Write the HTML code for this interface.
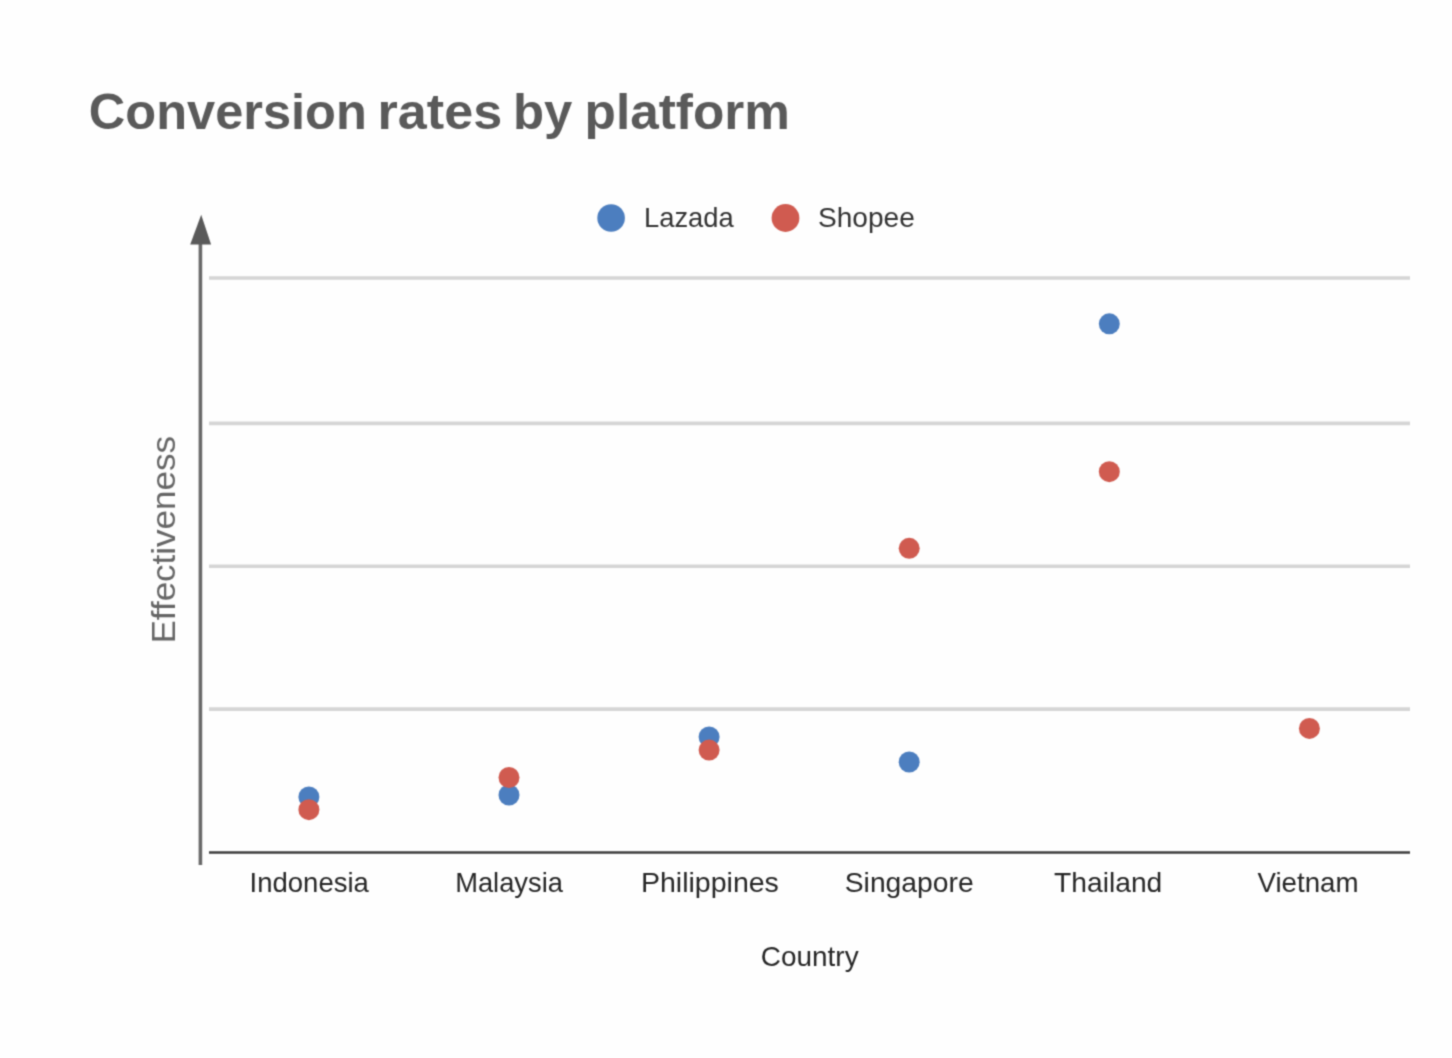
<!DOCTYPE html>
<html><head><meta charset="utf-8"><title>Conversion rates by platform</title>
<style>
html,body{margin:0;padding:0;background:#fff;}
body{width:1452px;height:1058px;overflow:hidden;font-family:"Liberation Sans",sans-serif;}
svg{display:block;}
</style></head>
<body>
<svg width="1452" height="1058" viewBox="0 0 1452 1058" font-family="Liberation Sans, sans-serif">
<defs><filter id="b" x="0" y="0" width="1452" height="1058" filterUnits="userSpaceOnUse" color-interpolation-filters="sRGB"><feConvolveMatrix order="3" kernelMatrix="0.0936 0.306 0.0936 0.306 1 0.306 0.0936 0.306 0.0936" divisor="2.598" edgeMode="duplicate"/></filter></defs>
<g filter="url(#b)">
<rect x="0" y="0" width="1452" height="1058" fill="#fefefe"/>
<!-- title -->
<g font-size="50" font-weight="bold" fill="#5a5a5a">
<text x="88.78" y="128.5" textLength="278.1" lengthAdjust="spacingAndGlyphs">Conversion</text>
<text x="377.57" y="128.5" textLength="124.56" lengthAdjust="spacingAndGlyphs">rates</text>
<text x="513.05" y="128.5" textLength="59.32" lengthAdjust="spacingAndGlyphs">by</text>
<text x="584.62" y="128.5" textLength="205.26" lengthAdjust="spacingAndGlyphs">platform</text>
</g>
<!-- legend -->
<circle cx="611.1" cy="218" r="13.8" fill="#4c7ebf"/>
<text x="644" y="227.2" font-size="27.6" fill="#333" textLength="89.7" lengthAdjust="spacingAndGlyphs">Lazada</text>
<circle cx="785.5" cy="218" r="13.9" fill="#d05b50"/>
<text x="818" y="227.1" font-size="27.6" fill="#333" textLength="96.8" lengthAdjust="spacingAndGlyphs">Shopee</text>
<!-- gridlines -->
<g stroke="#d5d5d5" stroke-width="3.6">
<line x1="209" y1="278" x2="1410" y2="278"/>
<line x1="209" y1="423.4" x2="1410" y2="423.4"/>
<line x1="209" y1="566.3" x2="1410" y2="566.3"/>
<line x1="209" y1="709.1" x2="1410" y2="709.1"/>
</g>
<line x1="209" y1="852.45" x2="1410" y2="852.45" stroke="#3c3c3c" stroke-width="2.4"/>
<!-- y axis -->
<line x1="200.4" y1="240" x2="200.4" y2="865" stroke="#6a6a6a" stroke-width="3.6"/>
<polygon points="201.2,214.8 190.2,244.6 211.1,244.6" fill="#595959"/>
<text transform="translate(175,643.5) rotate(-90)" font-size="34" fill="#666" textLength="207.5" lengthAdjust="spacingAndGlyphs">Effectiveness</text>
<!-- x labels -->
<g font-size="27.8" fill="#262626" text-anchor="middle">
<text x="309.2" y="891.6" textLength="119.3" lengthAdjust="spacingAndGlyphs">Indonesia</text>
<text x="509.05" y="891.6" textLength="107.8" lengthAdjust="spacingAndGlyphs">Malaysia</text>
<text x="709.9" y="891.6" textLength="138" lengthAdjust="spacingAndGlyphs">Philippines</text>
<text x="909.2" y="891.6" textLength="128.9" lengthAdjust="spacingAndGlyphs">Singapore</text>
<text x="1108.2" y="891.6" textLength="108.2" lengthAdjust="spacingAndGlyphs">Thailand</text>
<text x="1308.05" y="891.6" textLength="101.1" lengthAdjust="spacingAndGlyphs">Vietnam</text>
</g>
<text x="809.75" y="965.7" font-size="27.9" fill="#262626" text-anchor="middle" textLength="97.8" lengthAdjust="spacingAndGlyphs">Country</text>
<!-- data -->
<g fill="#4c7ebf">
<circle cx="308.9" cy="797" r="10.5"/>
<circle cx="509" cy="795" r="10.5"/>
<circle cx="709.1" cy="737" r="10.5"/>
<circle cx="909.2" cy="762" r="10.5"/>
<circle cx="1109.3" cy="323.8" r="10.5"/>
</g>
<g fill="#d05b50">
<circle cx="308.9" cy="809.7" r="10.5"/>
<circle cx="509" cy="777.5" r="10.5"/>
<circle cx="709.1" cy="750.1" r="10.5"/>
<circle cx="909.2" cy="548.3" r="10.5"/>
<circle cx="1109.3" cy="471.7" r="10.5"/>
<circle cx="1309.4" cy="728.4" r="10.5"/>
</g>
</g>
</svg>
</body></html>
